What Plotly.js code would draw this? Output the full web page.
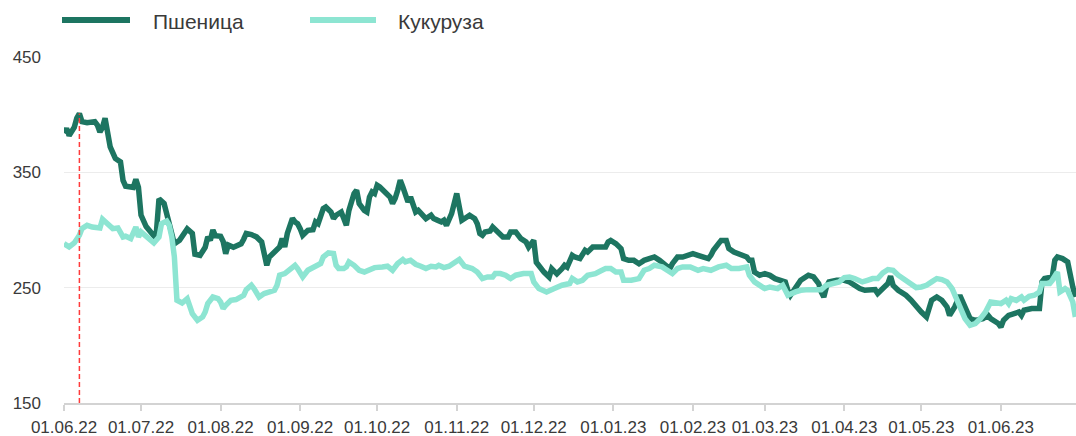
<!DOCTYPE html>
<html>
<head>
<meta charset="utf-8">
<script src="https://cdn.plot.ly/plotly-3.0.1.min.js"></script>
<style>
html,body{margin:0;padding:0;background:#fff;}
#chart{width:1076px;height:436px;}
</style>
</head>
<body>
<div id="chart"></div>
<script>
// ---- Data ----
const seriesNames = ['Пшеница', 'Кукуруза'];

const wheatDates = [
'2022-06-01','2022-06-02','2022-06-03','2022-06-05','2022-06-06','2022-06-07','2022-06-08','2022-06-10','2022-06-13','2022-06-14',
'2022-06-15','2022-06-16','2022-06-17','2022-06-18','2022-06-19','2022-06-21','2022-06-23','2022-06-24','2022-06-25','2022-06-28',
'2022-06-29','2022-06-30','2022-07-01','2022-07-03','2022-07-06','2022-07-07','2022-07-08','2022-07-10','2022-07-11','2022-07-13',
'2022-07-14','2022-07-16','2022-07-18','2022-07-19','2022-07-21','2022-07-22','2022-07-24','2022-07-26','2022-07-27','2022-07-28',
'2022-07-29','2022-07-30','2022-08-01','2022-08-02','2022-08-03','2022-08-04','2022-08-06','2022-08-09','2022-08-10','2022-08-11',
'2022-08-13','2022-08-15','2022-08-17','2022-08-18','2022-08-19','2022-08-20','2022-08-22','2022-08-24','2022-08-25','2022-08-26',
'2022-08-27','2022-08-29','2022-08-30','2022-08-31','2022-09-01','2022-09-02','2022-09-04','2022-09-06','2022-09-07','2022-09-08',
'2022-09-10','2022-09-11','2022-09-13','2022-09-14','2022-09-15','2022-09-16','2022-09-17','2022-09-18','2022-09-19','2022-09-20',
'2022-09-22','2022-09-23','2022-09-24','2022-09-26','2022-09-27','2022-09-28','2022-09-29','2022-09-30','2022-10-01','2022-10-02',
'2022-10-04','2022-10-06','2022-10-07','2022-10-08','2022-10-09','2022-10-10','2022-10-11','2022-10-12','2022-10-13','2022-10-14',
'2022-10-15','2022-10-16','2022-10-17','2022-10-18','2022-10-20','2022-10-22','2022-10-23','2022-10-24','2022-10-26','2022-10-27',
'2022-10-28','2022-10-30','2022-10-31','2022-11-01','2022-11-02','2022-11-03','2022-11-05','2022-11-06','2022-11-08','2022-11-09',
'2022-11-10','2022-11-11','2022-11-12','2022-11-14','2022-11-15','2022-11-17','2022-11-19','2022-11-21','2022-11-22','2022-11-24',
'2022-11-26','2022-11-28','2022-11-29','2022-12-01','2022-12-02','2022-12-05','2022-12-07','2022-12-08','2022-12-10','2022-12-12',
'2022-12-13','2022-12-14','2022-12-16','2022-12-17','2022-12-19','2022-12-21','2022-12-22','2022-12-24','2022-12-27','2022-12-29',
'2022-12-30','2022-12-31','2023-01-02','2023-01-04','2023-01-05','2023-01-07','2023-01-09','2023-01-11','2023-01-13','2023-01-16',
'2023-01-17','2023-01-19','2023-01-21','2023-01-23','2023-01-24','2023-01-26','2023-01-28','2023-01-30','2023-02-01','2023-02-03',
'2023-02-05','2023-02-07','2023-02-08','2023-02-09','2023-02-11','2023-02-12','2023-02-14','2023-02-15','2023-02-17','2023-02-19',
'2023-02-22','2023-02-23','2023-02-24','2023-02-25','2023-02-27','2023-03-01','2023-03-03','2023-03-05','2023-03-07','2023-03-09',
'2023-03-10','2023-03-11','2023-03-15','2023-03-18','2023-03-20','2023-03-22','2023-03-23','2023-03-24','2023-03-25','2023-03-26',
'2023-03-29','2023-04-01','2023-04-03','2023-04-05','2023-04-07','2023-04-09','2023-04-11','2023-04-13','2023-04-14','2023-04-16',
'2023-04-18','2023-04-19','2023-04-20','2023-04-22','2023-04-25','2023-04-27','2023-04-29','2023-05-01','2023-05-03','2023-05-04',
'2023-05-05','2023-05-07','2023-05-09','2023-05-11','2023-05-12','2023-05-14','2023-05-16','2023-05-20','2023-05-22','2023-05-25',
'2023-05-27','2023-05-28','2023-05-31','2023-06-01','2023-06-02','2023-06-04','2023-06-06','2023-06-08','2023-06-09','2023-06-10',
'2023-06-13','2023-06-16','2023-06-17','2023-06-18','2023-06-21','2023-06-22','2023-06-23','2023-06-25','2023-06-27','2023-06-28',
'2023-06-29','2023-06-30'
];
const wheatValues = [
384,388,382,389,397,401,394,393,394,391,
385,389,397,385,372,362,359,343,338,337,
344,337,313,303,295,298,327,323,314,298,
288,291,299,301,297,279,278,285,294,291,
300,295,294.5,290,279.5,287,285,288,292,297,
296,294,289.6,276.6,269.4,276.6,281,285.2,292.5,285.2,
297,310,307,305.5,301.2,295.4,299.7,300.3,307,305.5,
318.6,320,315.6,309.9,312.8,314.2,315.6,309.9,304.1,317,
331.6,334.5,322.9,317,315.6,328.6,333,331.6,338.8,337.3,
333,328.6,322.9,327.3,334.5,343.1,337.3,328.6,324.3,328.6,
320,315.6,317,314.2,309.9,312.8,309.9,309,307,308.4,
304,314.2,325.8,331.6,320,308.4,311.3,312.8,309.9,305.5,
296.9,295.4,298.3,299.1,302.6,298.3,293.9,293.9,298.3,298.3,
292.5,289.6,285.2,291,272,263.5,259.2,266.5,262,266.5,
269.4,267.9,278,276.6,275.2,282.4,280.9,285.2,285.2,285.2,
289.6,291,288.2,283.9,275.2,273.7,273.7,270.8,273.7,275.2,
276.6,273.7,270.8,266.5,270.8,276.6,276.6,278,279.5,278,
276.6,275.2,278,282.4,288.2,291,291,283.9,280.9,279.5,
276.6,273.7,273.7,263.5,260.7,262.2,260.7,257.8,256.3,254.9,
247.7,243.3,256.4,260.8,259.3,253.6,246.3,241.9,250.6,255,
256.4,256.4,255,252,249.2,247.7,248.3,248.3,244.9,249.2,
253.6,259.9,252,247.7,243.4,239.1,233.3,228.9,224.6,233.3,
239.1,241.9,239.1,233.3,226,233.3,243.4,223.2,221.7,223.2,
226,223.2,218.9,215.9,221.7,226,227.5,228.9,226,230.4,
231.9,231.9,255,257.9,259.3,273.8,276.6,275.2,272.3,259.3,
250.6,241.9
];

const cornDates = [
'2022-06-01','2022-06-03','2022-06-05','2022-06-07','2022-06-08','2022-06-10','2022-06-12','2022-06-15','2022-06-16','2022-06-18',
'2022-06-20','2022-06-22','2022-06-24','2022-06-25','2022-06-27','2022-06-29','2022-06-30','2022-07-01','2022-07-03','2022-07-06',
'2022-07-08','2022-07-09','2022-07-11','2022-07-12','2022-07-13','2022-07-14','2022-07-15','2022-07-17','2022-07-19','2022-07-20',
'2022-07-21','2022-07-23','2022-07-25','2022-07-26','2022-07-27','2022-07-29','2022-07-31','2022-08-01','2022-08-02','2022-08-03',
'2022-08-05','2022-08-07','2022-08-10','2022-08-11','2022-08-13','2022-08-14','2022-08-16','2022-08-18','2022-08-20','2022-08-22',
'2022-08-23','2022-08-24','2022-08-26','2022-08-28','2022-08-30','2022-08-31','2022-09-02','2022-09-04','2022-09-07','2022-09-09',
'2022-09-10','2022-09-12','2022-09-14','2022-09-15','2022-09-16','2022-09-18','2022-09-19','2022-09-20','2022-09-22','2022-09-24',
'2022-09-26','2022-09-28','2022-09-30','2022-10-03','2022-10-05','2022-10-07','2022-10-09','2022-10-11','2022-10-12','2022-10-14',
'2022-10-16','2022-10-18','2022-10-20','2022-10-22','2022-10-24','2022-10-25','2022-10-27','2022-10-29','2022-10-31','2022-11-02',
'2022-11-04','2022-11-05','2022-11-07','2022-11-09','2022-11-11','2022-11-13','2022-11-15','2022-11-16','2022-11-18','2022-11-20',
'2022-11-22','2022-11-24','2022-11-27','2022-11-30','2022-12-01','2022-12-03','2022-12-06','2022-12-09','2022-12-12','2022-12-15',
'2022-12-16','2022-12-18','2022-12-20','2022-12-22','2022-12-25','2022-12-27','2022-12-29','2022-12-31','2023-01-02','2023-01-04',
'2023-01-05','2023-01-08','2023-01-11','2023-01-13','2023-01-15','2023-01-17','2023-01-20','2023-01-22','2023-01-24','2023-01-26',
'2023-01-28','2023-01-31','2023-02-03','2023-02-05','2023-02-08','2023-02-11','2023-02-14','2023-02-16','2023-02-19','2023-02-22',
'2023-02-23','2023-02-25','2023-02-27','2023-03-01','2023-03-03','2023-03-06','2023-03-08','2023-03-10','2023-03-13','2023-03-15',
'2023-03-18','2023-03-21','2023-03-23','2023-03-25','2023-03-28','2023-03-30','2023-04-01','2023-04-03','2023-04-05','2023-04-08',
'2023-04-10','2023-04-12','2023-04-14','2023-04-16','2023-04-18','2023-04-20','2023-04-22','2023-04-25','2023-04-27','2023-04-29',
'2023-05-01','2023-05-03','2023-05-05','2023-05-07','2023-05-09','2023-05-11','2023-05-13','2023-05-14','2023-05-16','2023-05-18',
'2023-05-20','2023-05-22','2023-05-24','2023-05-26','2023-05-28','2023-06-01','2023-06-03','2023-06-04','2023-06-05','2023-06-07',
'2023-06-09','2023-06-10','2023-06-12','2023-06-14','2023-06-16','2023-06-17','2023-06-18','2023-06-20','2023-06-21','2023-06-23',
'2023-06-24','2023-06-26','2023-06-27','2023-06-29','2023-06-30'
];
const cornValues = [
288.2,285.3,288.8,295.4,301.2,304.1,302.6,301.8,309.3,305.6,
301.2,301.8,294,294.6,292.6,302.6,294,298.3,294,288.8,
294,305.6,307.8,304.1,294,276.6,239.1,236.7,240.5,231.9,
227.5,221.7,224.6,228.9,236.2,241.9,240.5,237.6,231.9,234.7,
239.1,239.7,243.4,248.3,252.1,249.2,241.9,244.9,246.3,247.7,
252.1,260.8,262.2,265.1,269.4,266.6,259.3,265.1,268.6,270.9,
276.6,280.1,279.6,269.4,266.6,266.6,268,272.3,269.4,265.1,
263.6,265.1,267.4,268,268.6,265.1,270.9,274.4,272.3,273.8,
270.3,268.6,266.6,268.6,268,269.4,267.4,268.6,270.9,274.4,
268.6,268,266.6,263.6,257.9,259.3,259.3,262.2,262.2,260.8,
257.9,260.8,262.2,262.2,255,249.2,246.3,249.2,252.1,253.6,
257.9,255,256.4,260.8,262.2,264.5,266.6,266.6,263.6,263.6,
256.4,256.4,257.9,265.1,266.6,269.4,268,265.1,262.2,266.6,
268,268,265.1,266.6,265.1,268,269.4,266.6,266.6,268,
260.8,255,252.1,249.2,250.6,249.2,252.1,243.4,246.3,247.7,
248.3,247.7,248.3,252.1,254.1,255,258.8,259.3,257.9,255,
256.4,257.9,257.9,262.8,265.7,265.1,260.8,256.4,252.1,250.1,
250.6,252.1,255,257.9,257,255,249.2,243.4,233.3,223.2,
217.4,218.8,223.2,228.9,237.6,236.2,239.1,236.2,240.5,239,
241.9,239.1,242.5,243.4,246.3,253.6,253.6,253.6,256.4,263.6,
246.3,249.2,247.7,237.6,224.6
];

// Y-axis ticks and marker line (date of the red dashed line and its top value)
const yTicks = [150, 250, 350, 450];
const markerDate = '2022-06-07';
const markerTop = 401;

// ---- Styles ----
const wheatColor = '#1d7561';
const cornColor = '#8de5d2';
const textColor = '#3a3a3a';
const fontFamily = '"Liberation Sans", Arial, sans-serif';

const traces = [
  {x: wheatDates, y: wheatValues, name: seriesNames[0], type: 'scatter', mode: 'lines',
   line: {color: wheatColor, width: 5.5}, showlegend: false},
  {x: cornDates, y: cornValues, name: seriesNames[1], type: 'scatter', mode: 'lines',
   line: {color: cornColor, width: 5.5}, showlegend: false}
];

const layout = {
  width: 1076, height: 436,
  margin: {l: 64, r: 0, t: 57, b: 33},
  paper_bgcolor: '#fff', plot_bgcolor: '#fff',
  font: {family: fontFamily, size: 17, color: textColor},
  showlegend: false,
  xaxis: {
    type: 'date',
    range: ['2022-06-01', '2023-06-30 06:00'],
    tick0: '2022-06-01', dtick: 'M1', tickformat: '%d.%m.%y',
    tickangle: 0,
    showgrid: false, zeroline: false,
    showline: true, linecolor: '#d3d3d3', linewidth: 2,
    ticks: 'outside', ticklen: 6, tickwidth: 2, tickcolor: '#d3d3d3',
    ticklabelstandoff: 2,
    tickfont: {family: fontFamily, size: 17, color: textColor}
  },
  yaxis: {
    range: [150, 450], tickvals: yTicks, ticktext: yTicks.map(String),
    showgrid: true, gridcolor: '#ececec', gridwidth: 1,
    zeroline: false, showline: false, ticks: '',
    ticklabelstandoff: 22,
    tickfont: {family: fontFamily, size: 17, color: textColor}
  },
  shapes: [
    {type: 'line', xref: 'x', yref: 'y', x0: markerDate, x1: markerDate, y0: 150, y1: markerTop,
     line: {color: '#ff3b3b', width: 1.5, dash: '5px,3px'}, layer: 'above'},
    // legend swatches
    {type: 'line', xref: 'paper', yref: 'paper', xsizemode: 'pixel', ysizemode: 'pixel',
     xanchor: 0, yanchor: 1, x0: -2, x1: 66, y0: 37, y1: 37,
     line: {color: wheatColor, width: 6}},
    {type: 'line', xref: 'paper', yref: 'paper', xsizemode: 'pixel', ysizemode: 'pixel',
     xanchor: 0, yanchor: 1, x0: 246, x1: 312, y0: 37, y1: 37,
     line: {color: cornColor, width: 6}}
  ],
  annotations: [
    {xref: 'paper', yref: 'paper', x: 0, y: 1, xshift: 87, yshift: 36, xanchor: 'left', yanchor: 'middle',
     text: seriesNames[0], showarrow: false, font: {family: fontFamily, size: 21, color: textColor}},
    {xref: 'paper', yref: 'paper', x: 0, y: 1, xshift: 332, yshift: 36, xanchor: 'left', yanchor: 'middle',
     text: seriesNames[1], showarrow: false, font: {family: fontFamily, size: 21, color: textColor}}
  ]
};

Plotly.newPlot('chart', traces, layout, {displayModeBar: false, staticPlot: true});
</script>
</body>
</html>
